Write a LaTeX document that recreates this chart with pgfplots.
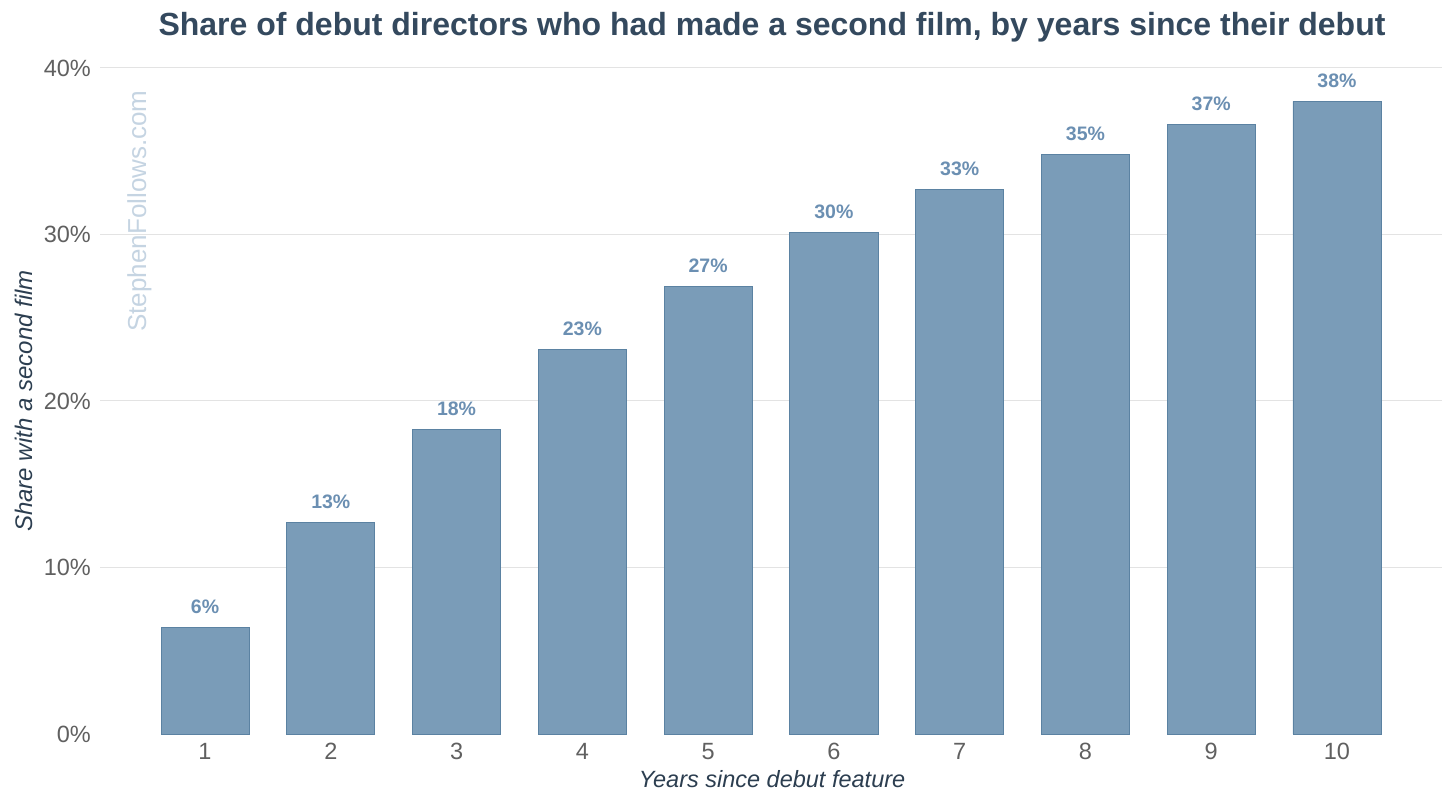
\documentclass[border=0pt]{standalone}
\usepackage{fontspec}
\setmainfont{Liberation Sans}
\usepackage{pgfplots}
\pgfplotsset{compat=1.18}
\definecolor{barfill}{HTML}{7A9CB8}
\definecolor{baredge}{HTML}{5B82A2}
\definecolor{lblcol}{HTML}{6B8FB2}
\definecolor{titlecol}{HTML}{34495E}
\definecolor{axcol}{HTML}{2C3E50}
\definecolor{tickcol}{HTML}{606060}
\definecolor{gridcol}{HTML}{E3E3E3}
\definecolor{wmcol}{HTML}{C5D4E2}
\begin{document}
\begin{tikzpicture}
\useasboundingbox (0,0) rectangle (1456pt,808pt);
\begin{axis}[
  at={(100pt,74pt)}, anchor=south west,
  scale only axis, width=1342pt, height=666pt,
  xmin=0.165, xmax=10.835, ymin=0, ymax=40,
  axis line style={draw=none},
  major tick length=0pt,
  ymajorgrids, grid style={gridcol, line width=1pt},
  xtick={1,...,10},
  ytick={10,20,30,40},
  yticklabels={10\%,20\%,30\%,40\%},
  extra y ticks={0},
  extra y tick labels={0\%},
  extra y tick style={ymajorgrids=false},
  /pgf/number format/assume math mode=true,
  tick label style={font=\fontsize{23.5}{23.5}\selectfont, text=tickcol, inner sep=0pt},
  xticklabel style={anchor=north, yshift=-9pt},
  yticklabel style={anchor=east, xshift=-9pt},
  clip=false,
]
\addplot[ybar, bar width=0.7, fill=barfill, draw=baredge, line width=0.8pt,
  nodes near coords={\pgfmathprintnumber[fixed,precision=0]{\pgfplotspointmeta}\%},
  every node near coord/.append style={anchor=base, yshift=14pt, inner sep=0pt,
    font=\fontsize{19.5}{19.5}\selectfont\bfseries, text=lblcol}]
coordinates {
(1,6.4) (2,12.7) (3,18.3) (4,23.1) (5,26.9) (6,30.1) (7,32.7) (8,34.8) (9,36.6) (10,38.0)
};
\end{axis}
\node[anchor=base, text=titlecol, font=\fontsize{32}{32}\selectfont\bfseries] at (772pt,772pt)
  {Share of debut directors who had made a second film, by years since their debut};
\node[anchor=base, text=axcol, font=\fontsize{23.5}{23.5}\selectfont\itshape] at (772pt,20pt)
  {Years since debut feature};
\node[anchor=base, rotate=90, text=axcol, font=\fontsize{24}{24}\selectfont\itshape] at (32pt,407pt)
  {Share with a second film};
\node[anchor=base, rotate=90, text=wmcol, font=\fontsize{26}{26}\selectfont] at (146pt,597pt)
  {StephenFollows.com};
\end{tikzpicture}
\end{document}
